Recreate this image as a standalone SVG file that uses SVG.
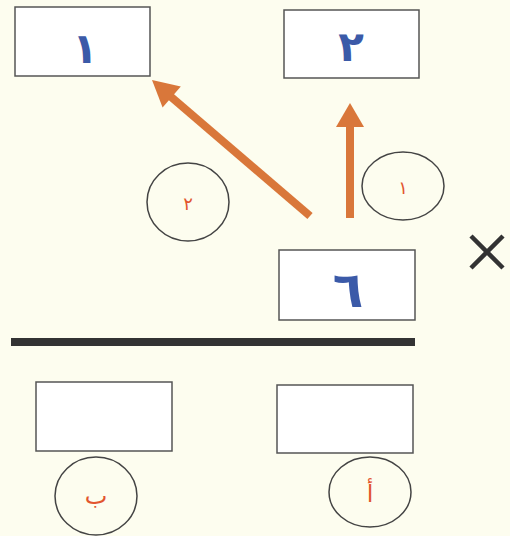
<svg xmlns="http://www.w3.org/2000/svg" width="510" height="536" viewBox="0 0 510 536">
<style>
.box{fill:#ffffff;stroke:#555555;stroke-width:1.5}
.circ{fill:none;stroke:#444444;stroke-width:1.5}
.num{font-family:"DejaVu Sans",sans-serif;fill:#3b5aa8;text-anchor:middle;font-weight:bold}
.lab{font-family:"DejaVu Sans",sans-serif;fill:#e2552e;text-anchor:middle}
.shaft{stroke:#d9773a;stroke-width:8;fill:none}
.head{fill:#d9773a}
</style>
<rect width="510" height="536" fill="#fdfdef"/>
<g id="box1"><rect class="box" x="15" y="7" width="135" height="69"/><text class="num" x="85" y="63" font-size="42">١</text></g>
<g id="box2"><rect class="box" x="284" y="10" width="135" height="68"/><text class="num" x="351" y="61" font-size="42">٢</text></g>
<g id="box6"><rect class="box" x="279" y="250" width="136" height="70"/><text class="num" x="348" y="307" font-size="50">٦</text></g>
<g id="circle2"><ellipse class="circ" cx="188" cy="202" rx="41" ry="39"/><text class="lab" x="188" y="210" font-size="18">٢</text></g>
<g id="circle1"><ellipse class="circ" cx="403" cy="186" rx="41" ry="34"/><text class="lab" x="403" y="194" font-size="18">١</text></g>
<g id="connectors">
<line class="shaft" x1="310" y1="216" x2="170" y2="96"/>
<polygon class="head" points="152,80 180.8,86.4 162.6,107.6"/>
<line class="shaft" x1="350" y1="218" x2="350" y2="125"/>
<polygon class="head" points="350,103 364,127 336,127"/>
</g>
<g id="times"><path d="M471,236 L503,268 M503,236 L471,268" stroke="#333333" stroke-width="4.5" fill="none"/></g>
<rect id="divider" x="11" y="338" width="404" height="8" fill="#333333"/>
<g id="boxB"><rect class="box" x="36" y="382" width="136" height="69"/></g>
<g id="boxA"><rect class="box" x="277" y="385" width="136" height="68"/></g>
<g id="circleB"><ellipse class="circ" cx="96" cy="496" rx="41" ry="39"/><text class="lab" x="96" y="504" font-size="24">ب</text></g>
<g id="circleA"><ellipse class="circ" cx="370" cy="492" rx="41" ry="35"/><text class="lab" x="370" y="502" font-size="24">أ</text></g>
</svg>
